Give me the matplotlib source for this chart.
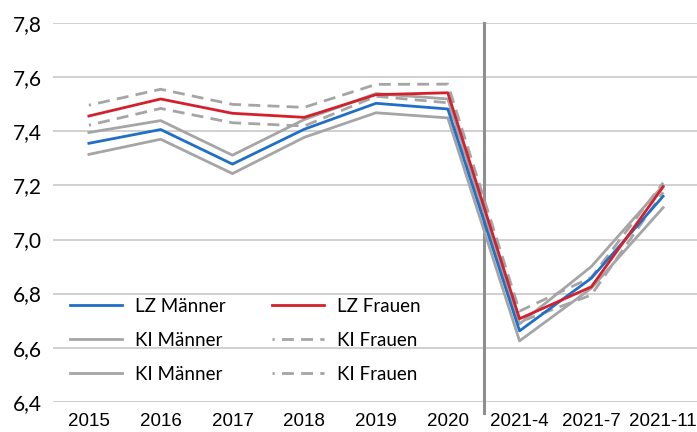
import matplotlib.pyplot as plt

# categories and values
labels = ["2015", "2016", "2017", "2018", "2019", "2020", "2021-4", "2021-7", "2021-11"]
lz_maenner = [7.356, 7.407, 7.279, 7.408, 7.504, 7.483, 6.662, 6.857, 7.160]
lz_frauen = [7.457, 7.520, 7.467, 7.452, 7.536, 7.543, 6.707, 6.825, 7.195]
ki_maenner_oben = [7.396, 7.440, 7.312, 7.444, 7.540, 7.520, 6.688, 6.900, 7.200]
ki_maenner_unten = [7.315, 7.371, 7.244, 7.378, 7.469, 7.450, 6.625, 6.820, 7.118]
ki_frauen_oben = [7.497, 7.556, 7.500, 7.489, 7.574, 7.575, 6.735, 6.860, 7.210]
ki_frauen_unten = [7.423, 7.485, 7.432, 7.420, 7.530, 7.506, 6.695, 6.795, 7.175]
yticks = [6.4, 6.6, 6.8, 7.0, 7.2, 7.4, 7.6, 7.8]

BLUE = "#1f6fc6"
RED = "#d4202c"
GREY = "#a5a5a5"
dashed = (3.5, (4.3, 2.6))

fig = plt.figure(figsize=(6.97, 4.32), dpi=100)
ax = fig.add_axes([53 / 697, 30.3 / 432, 646 / 697, 378.4 / 432])

x = list(range(len(labels)))
lw = 2.0
h_kim1, = ax.plot(x, ki_maenner_oben, color=GREY, lw=lw, label="KI Männer")
h_kim2, = ax.plot(x, ki_maenner_unten, color=GREY, lw=lw, label="KI Männer")
h_kif1, = ax.plot(x, ki_frauen_oben, color=GREY, lw=lw, ls=dashed, label="KI Frauen")
h_kif2, = ax.plot(x, ki_frauen_unten, color=GREY, lw=lw, ls=dashed, label="KI Frauen")
h_lzm, = ax.plot(x, lz_maenner, color=BLUE, lw=lw, label="LZ Männer")
h_lzf, = ax.plot(x, lz_frauen, color=RED, lw=lw, label="LZ Frauen")

# break between yearly and monthly values
ax.axvline(5.5, ymin=-0.03, ymax=1.0, color="#8f8f8f", lw=2.2, clip_on=False, zorder=1)

ax.set_xlim(-0.5, 8.5)
ax.set_ylim(6.4, 7.8)
ax.set_xticks(x)
ax.set_xticklabels(labels, family="Liberation Sans", fontsize=13.5)
ax.set_yticks(yticks)
ax.set_yticklabels([f"{v:.1f}".replace(".", ",") for v in yticks], family="Lato", fontsize=15)
ax.tick_params(axis="both", length=0)
ax.tick_params(axis="y", pad=8)
ax.tick_params(axis="x", pad=8)
ax.grid(axis="y", color="#c8c8c8", lw=1.2)
ax.set_axisbelow(True)
for s in ax.spines.values():
    s.set_visible(False)

handles = [h_lzm, h_kim1, h_kim2, h_lzf, h_kif1, h_kif2]
fig.legend(handles, [h.get_label() for h in handles], ncol=2, frameon=False,
           loc="upper left", bbox_to_anchor=(70 / 697, 1 - 298 / 432),
           prop={"family": "Lato", "size": 13.5}, handlelength=2.75,
           handletextpad=0.7, columnspacing=2.5, labelspacing=0.9,
           borderpad=0, borderaxespad=0)

fig.savefig("out.png", dpi=100)
